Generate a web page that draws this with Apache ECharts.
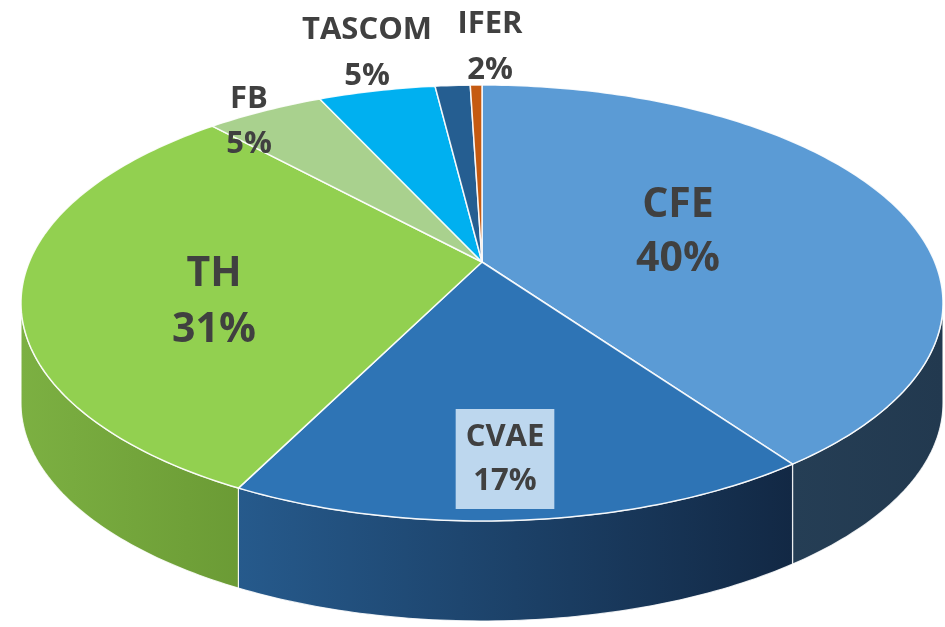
<!DOCTYPE html>
<html>
<head>
<meta charset="utf-8">
<script src="https://cdn.jsdelivr.net/npm/echarts@6/dist/echarts.min.js"></script>
<style>
html,body{margin:0;padding:0;background:#fff;}
#chart{width:945px;height:627px;}
</style>
</head>
<body>
<div id="chart"></div>
<script>
// ---- data ----
const categories = ['CFE', 'CVAE', 'TH', 'FB', 'TASCOM', '', 'IFER'];
const values = [40, 17.5, 30.5, 5, 5, 1.5, 0.5];
const pctLabels = ['40%', '17%', '31%', '5%', '5%', '', '2%'];

// ---- styles / layout ----
const topColors = ['#5b9bd5', '#2e74b5', '#92d050', '#a9d18e', '#00b0f0', '#255e91', '#c55a11'];
const wallColors = [
  ['#253e55', '#22394f'],
  ['#265a8c', '#122844'],
  ['#7cb042', '#6b9b35'],
  ['#86b06a', '#7aa45e'],
  ['#0090c8', '#0080b8'],
  ['#1c4870', '#183e60'],
  ['#9a450d', '#8a3d0b']
];
const GEO = { cx: 482, cy: 303, rx: 461, ry: 218, ax: 482, ay: 262, depth: 100 };
const labelLayout = [
  { x: 678, y: 232, size: 41, lh: 54 },
  { x: 505, y: 459, size: 31, lh: 44, box: '#bdd7ee' },
  { x: 214, y: 302, size: 41, lh: 56 },
  { x: 249, y: 122, size: 31, lh: 45 },
  { x: 367, y: 53, size: 31, lh: 46 },
  null,
  { x: 490, y: 47, size: 31, lh: 46 }
];

const total = values.reduce((a, b) => a + b, 0);
const cum = [0];
values.forEach((v, i) => cum.push(cum[i] + v / total));

function rimPoint(theta) {
  const g = GEO;
  const dx = g.rx * Math.sin(theta), dy = -g.ry * Math.cos(theta);
  const ox = (g.ax - g.cx) / g.rx, oy = (g.ay - g.cy) / g.ry;
  const ux = dx / g.rx, uy = dy / g.ry;
  const a = ux * ux + uy * uy, b = 2 * (ox * ux + oy * uy), c = ox * ox + oy * oy - 1;
  const t = (-b + Math.sqrt(b * b - 4 * a * c)) / (2 * a);
  return [g.ax + dx * t, g.ay + dy * t];
}
function phiOf(p) {
  let f = Math.atan2((p[0] - GEO.cx) / GEO.rx, -(p[1] - GEO.cy) / GEO.ry);
  if (f < 0) f += Math.PI * 2;
  return f;
}
function ellPoint(phi, dy) {
  return [GEO.cx + GEO.rx * Math.sin(phi), GEO.cy - GEO.ry * Math.cos(phi) + (dy || 0)];
}

function renderItem(params, api) {
  const i = params.dataIndex;
  const t0 = cum[i] * Math.PI * 2, t1 = cum[i + 1] * Math.PI * 2;
  const children = [];
  // top face
  const pts = [[GEO.ax, GEO.ay]];
  const n = Math.max(2, Math.ceil((t1 - t0) / (Math.PI / 180)));
  for (let k = 0; k <= n; k++) pts.push(rimPoint(t0 + (t1 - t0) * k / n));
  children.push({
    type: 'polygon', z2: 10,
    shape: { points: pts },
    style: { fill: topColors[i], stroke: 'rgba(255,255,255,0.9)', lineWidth: 1.5, lineJoin: 'round' }
  });
  // side wall
  let p0 = phiOf(rimPoint(t0));
  if (cum[i] === 0) p0 = 0;
  let p1 = p0 + ((phiOf(rimPoint(t1)) - p0 + Math.PI * 2) % (Math.PI * 2));
  if (cum[i + 1] >= 0.99999) p1 = Math.PI * 2;
  const a = Math.max(p0, Math.PI / 2), b = Math.min(p1, Math.PI * 1.5);
  if (b > a) {
    const m = Math.max(2, Math.ceil((b - a) / (Math.PI / 180)));
    const wp = [];
    for (let k = 0; k <= m; k++) wp.push(ellPoint(a + (b - a) * k / m, 0));
    for (let k = m; k >= 0; k--) wp.push(ellPoint(a + (b - a) * k / m, GEO.depth));
    children.push({
      type: 'polygon', z2: 1,
      shape: { points: wp },
      style: {
        fill: new echarts.graphic.LinearGradient(0, 0, 1, 0, [
          { offset: 0, color: wallColors[i][0] }, { offset: 1, color: wallColors[i][1] }
        ]),
        stroke: 'rgba(255,255,255,0.85)', lineWidth: 1.2
      }
    });
  }
  // label
  const L = labelLayout[i];
  if (L && categories[i]) {
    const st = {
      text: categories[i] + '\n' + pctLabels[i],
      fill: '#404040', fontSize: L.size, fontWeight: 'bold',
      fontFamily: '"Open Sans", "Noto Sans", sans-serif',
      align: 'center', verticalAlign: 'middle', lineHeight: L.lh
    };
    if (L.box) { st.backgroundColor = L.box; st.padding = [6, 10, 6, 10]; }
    children.push({ type: 'text', z2: 20, x: L.x, y: L.y, style: st });
  }
  return { type: 'group', children };
}

const chart = echarts.init(document.getElementById('chart'), null, { renderer: 'canvas' });
chart.setOption({
  backgroundColor: '#ffffff',
  animation: false,
  series: [{
    type: 'custom',
    coordinateSystem: 'none',
    silent: true,
    data: values.map((v, i) => ({ name: categories[i], value: v })),
    renderItem: renderItem
  }]
});
</script>
</body>
</html>
